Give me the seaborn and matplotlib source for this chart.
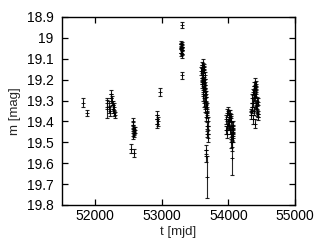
import numpy as np
import pandas as pd
import matplotlib
matplotlib.use("Agg")
import matplotlib.pyplot as plt
from matplotlib.ticker import FuncFormatter
import seaborn as sns

# light curve points (t in mjd, m in mag, err in mag)
t_a = [51820, 51880]
m_a = [19.31, 19.36]
e_a = [0.02, 0.015]

t_b = [52170, 52180, 52200, 52215, 52235, 52240, 52250, 52260, 52265, 52275, 52280, 52290]
m_b = [19.31, 19.34, 19.33, 19.35, 19.27, 19.29, 19.30, 19.32, 19.34, 19.33, 19.36, 19.37]
e_b = [0.02, 0.045, 0.03, 0.025, 0.02, 0.02, 0.02, 0.02, 0.02, 0.02, 0.015, 0.015]

t_c = [52560, 52565, 52570, 52575, 52580, 52585, 52570, 52590, 52530, 52586]
m_c = [19.40, 19.42, 19.43, 19.44, 19.45, 19.46, 19.47, 19.44, 19.53, 19.55]
e_c = [0.015, 0.015, 0.015, 0.015, 0.015, 0.015, 0.015, 0.015, 0.02, 0.02]

t_d = [52972, 52925, 52930, 52935, 52930]
m_d = [19.26, 19.37, 19.39, 19.40, 19.41]
e_d = [0.02, 0.02, 0.02, 0.02, 0.02]

t_e = [53298, 53280, 53285, 53290, 53295, 53300, 53305, 53288, 53292, 53302, 53296, 53300]
m_e = [18.94, 19.03, 19.04, 19.05, 19.06, 19.045, 19.035, 19.07, 19.05, 19.06, 19.08, 19.18]
e_e = [0.015, 0.015, 0.015, 0.02, 0.015, 0.015, 0.015, 0.015, 0.02, 0.015, 0.015, 0.015]

t_f = [53600, 53615, 53625, 53635, 53590, 53620, 53640, 53605, 53630, 53645,
       53600, 53625, 53650, 53610, 53640, 53655, 53620, 53645, 53660, 53635,
       53665, 53670, 53650, 53680, 53675, 53655, 53690, 53670, 53695, 53680,
       53690, 53595, 53610, 53635, 53605, 53650, 53615, 53660, 53665, 53675]
m_f = [19.13, 19.12, 19.14, 19.15, 19.16, 19.17, 19.18, 19.19, 19.20, 19.21,
       19.22, 19.23, 19.24, 19.25, 19.26, 19.27, 19.28, 19.29, 19.30, 19.31,
       19.32, 19.33, 19.34, 19.36, 19.37, 19.38, 19.40, 19.42, 19.44, 19.46,
       19.48, 19.145, 19.195, 19.235, 19.205, 19.255, 19.165, 19.535, 19.565, 19.665]
e_f = [0.015, 0.02, 0.015, 0.015, 0.02, 0.015, 0.015, 0.02, 0.015, 0.015,
       0.02, 0.015, 0.015, 0.02, 0.015, 0.015, 0.02, 0.015, 0.015, 0.02,
       0.015, 0.02, 0.015, 0.02, 0.015, 0.02, 0.02, 0.015, 0.02, 0.015,
       0.02, 0.015, 0.015, 0.015, 0.015, 0.015, 0.015, 0.02, 0.03, 0.1]

t_g = [53990, 53975, 54010, 54030, 53965, 54040, 54000, 53985, 54055, 54020,
       54065, 54035, 54050, 54070, 54045, 54060, 53960, 53980, 54015, 54075,
       54025, 54045, 54005, 54065, 54058]
m_g = [19.35, 19.36, 19.37, 19.38, 19.39, 19.40, 19.41, 19.42, 19.43, 19.44,
       19.45, 19.46, 19.47, 19.48, 19.50, 19.52, 19.44, 19.46, 19.40, 19.42,
       19.365, 19.385, 19.415, 19.435, 19.575]
e_g = [0.02, 0.02, 0.025, 0.02, 0.02, 0.025, 0.02, 0.02, 0.025, 0.02,
       0.02, 0.025, 0.02, 0.02, 0.025, 0.02, 0.02, 0.02, 0.02, 0.02,
       0.02, 0.02, 0.02, 0.02, 0.08]

t_h = [54400, 54410, 54390, 54405, 54385, 54375, 54420, 54395, 54360, 54430,
       54370, 54415, 54350, 54435, 54380, 54425, 54345, 54440, 54365, 54400,
       54355, 54420, 54340, 54445, 54390, 54410, 54450]
m_h = [19.21, 19.22, 19.23, 19.24, 19.25, 19.26, 19.27, 19.28, 19.29, 19.30,
       19.31, 19.32, 19.33, 19.34, 19.35, 19.36, 19.37, 19.38, 19.39, 19.41,
       19.345, 19.325, 19.355, 19.305, 19.285, 19.245, 19.365]
e_h = [0.02, 0.015, 0.02, 0.015, 0.02, 0.015, 0.02, 0.015, 0.02, 0.015,
       0.02, 0.015, 0.02, 0.015, 0.02, 0.015, 0.02, 0.015, 0.02, 0.02,
       0.015, 0.015, 0.015, 0.015, 0.015, 0.015, 0.015]

df = pd.DataFrame({
    "t": t_a + t_b + t_c + t_d + t_e + t_f + t_g + t_h,
    "m": m_a + m_b + m_c + m_d + m_e + m_f + m_g + m_h,
    "err": e_a + e_b + e_c + e_d + e_e + e_f + e_g + e_h,
})

sns.set_style("ticks")
plt.rcParams["font.family"] = ["Liberation Sans", "DejaVu Sans"]

fig = plt.figure(figsize=(3.2, 2.5), dpi=100)
ax = fig.add_axes([0.194, 0.18, 0.728, 0.752])

ax.errorbar(df["t"], df["m"], yerr=df["err"], fmt="none", ecolor="black",
            elinewidth=0.8, capsize=1.6, capthick=0.8, alpha=0.85)
sns.scatterplot(data=df, x="t", y="m", marker="+", color="black", s=8,
                linewidth=0.6, ax=ax, legend=False)

ax.set_xlim(51500, 55000)
ax.set_ylim(19.8, 18.9)
ax.set_xticks([52000, 53000, 54000, 55000])
ax.set_yticks([18.9, 19.0, 19.1, 19.2, 19.3, 19.4, 19.5, 19.6, 19.7, 19.8])
ax.yaxis.set_major_formatter(FuncFormatter(lambda v, p: f"{v:g}"))

ax.tick_params(direction="in", length=4, width=0.9, top=True, right=True,
               labelsize=10, colors="black")
ax.tick_params(axis="x", pad=3)
ax.tick_params(axis="y", pad=6)
for s in ax.spines.values():
    s.set_linewidth(1.0)
    s.set_color("black")

ax.set_xlabel("t [mjd]", fontsize=9.5, labelpad=2)
ax.set_ylabel("m [mag]", fontsize=9.5, labelpad=4)

fig.savefig("out.png", dpi=100)
